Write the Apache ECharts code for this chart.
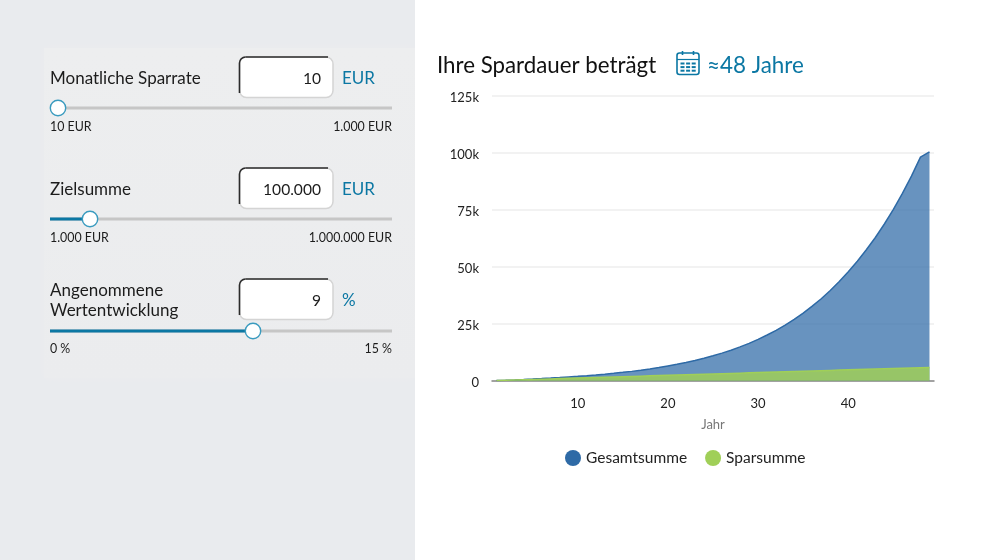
<!DOCTYPE html>
<html>
<head>
<meta charset="utf-8">
<style>
html, body { margin: 0; padding: 0; background: #fff; }
#chart { width: 984px; height: 560px; }
</style>
<script src="https://cdn.jsdelivr.net/npm/echarts@6/dist/echarts.min.js"></script>
</head>
<body>
<div id="chart"></div>
<script>
var years = [];
for (var y = 1; y <= 49; y++) years.push(y);

// Werte
var gesamtsumme = [120, 250, 400, 570, 760, 960, 1180, 1420, 1680, 1950,
    2250, 2570, 2910, 3290, 3700, 4130, 4620, 5160, 5790, 6500,
    7220, 8020, 8900, 9870, 10940, 12120, 13420, 14850, 16420, 18150,
    20050, 22130, 24420, 26930, 29680, 32690, 35950, 39550, 43500, 47800,
    52400, 57400, 62800, 68700, 75100, 82100, 89700, 98000, 100300];
var sparsumme = [120, 240, 360, 480, 600, 720, 840, 960, 1080, 1200,
    1320, 1440, 1560, 1680, 1800, 1920, 2040, 2160, 2280, 2400,
    2520, 2640, 2760, 2880, 3000, 3120, 3240, 3360, 3480, 3600,
    3720, 3840, 3960, 4080, 4200, 4320, 4440, 4560, 4680, 4800,
    4920, 5040, 5160, 5280, 5400, 5520, 5640, 5760, 5880];
var seriesNames = ['Gesamtsumme', 'Sparsumme'];

var fieldLabels = [['Monatliche Sparrate'], ['Zielsumme'], ['Angenommene', 'Wertentwicklung']];
var fieldValues = ['10', '100.000', '9'];
var fieldUnits = ['EUR', 'EUR', '%'];
var rangeMin = ['10 EUR', '1.000 EUR', '0 %'];
var rangeMax = ['1.000 EUR', '1.000.000 EUR', '15 %'];

var FONT = 'Lato';
var BLUE = '#0b77a3';
var graphics = [];

function text(str, x, y, size, color, align) {
    graphics.push({
        type: 'text', z: 20,
        style: { text: str, x: x, y: y, font: size + 'px ' + FONT, fill: color, textAlign: align || 'left', textVerticalAlign: 'middle' }
    });
}
function rect(x, y, w, h, r, fill, stroke, lw) {
    graphics.push({
        type: 'rect', z: 10,
        shape: { x: x, y: y, width: w, height: h, r: r },
        style: { fill: fill, stroke: stroke || null, lineWidth: lw || 0 }
    });
}
function line(x1, y1, x2, y2, color, lw) {
    graphics.push({
        type: 'line', z: 12,
        shape: { x1: x1, y1: y1, x2: x2, y2: y2 },
        style: { stroke: color, lineWidth: lw }
    });
}

// linke Seite
rect(0, 0, 415, 560, 0, '#e9ebee');
graphics.push({
    type: 'rect', z: 10,
    shape: { x: 44, y: 48, width: 371, height: 330 },
    style: {
        fill: { type: 'linear', x: 0, y: 0, x2: 0, y2: 1, colorStops: [{ offset: 0, color: '#edeeef' }, { offset: 1, color: '#ebecee' }] },
        shadowBlur: 10, shadowColor: '#ebecee'
    }
});
// Schatten darf nicht auf die weisse Seite
rect(415, 0, 14, 560, 0, '#fff');

var rowTop = [57, 168, 279];
var trackY = [108, 219, 331];
var knobX = [58, 90, 253];
var labelY = [78.5, 189.5, 291];
var rangeY = [127, 238, 349];

for (var i = 0; i < 3; i++) {
    var boxTop = rowTop[i];
    // Eingabefeld
    rect(239.5, boxTop, 93.5, 40.5, 7, '#fff', '#d4d4d4', 1.5);
    line(239.5, boxTop + 6, 239.5, boxTop + 36, '#2b2b2b', 1.6);
    line(245.5, boxTop, 328, boxTop, '#2b2b2b', 1.6);
    graphics.push({
        type: 'arc', z: 12,
        shape: { cx: 245.5, cy: boxTop + 6, r: 6, startAngle: Math.PI, endAngle: Math.PI * 1.5 },
        style: { stroke: '#2b2b2b', lineWidth: 1.6, fill: null }
    });
    text(fieldValues[i], 321, boxTop + 22, 15.6, '#1c1c1c', 'right');
    text(fieldUnits[i], 342, boxTop + 22, 17, BLUE);

    for (var j = 0; j < fieldLabels[i].length; j++) {
        text(fieldLabels[i][j], 50, labelY[i] + j * 20, 17, '#1c1c1c');
    }

    // Schieberegler
    line(50, trackY[i], 392, trackY[i], '#c6c6c6', 3);
    line(50, trackY[i], knobX[i], trackY[i], BLUE, 3);
    graphics.push({
        type: 'circle', z: 14,
        shape: { cx: knobX[i], cy: trackY[i], r: 7.7 },
        style: { fill: '#fff', stroke: '#3a9bbf', lineWidth: 1.4 }
    });
    text(rangeMin[i], 50, rangeY[i], 12.4, '#1c1c1c');
    text(rangeMax[i], 392, rangeY[i], 12.4, '#1c1c1c', 'right');
}

// Ueberschrift
text('Ihre Spardauer beträgt', 437, 65.5, 22.3, '#111');
text('≈48 Jahre', 707, 65.5, 22.4, BLUE);

// Kalender
rect(677, 53, 22, 21.5, 2.5, '#fff', BLUE, 1.6);
line(677, 59.5, 699, 59.5, BLUE, 1.2);
line(682.5, 51, 682.5, 55, BLUE, 1.6);
line(693.5, 51, 693.5, 55, BLUE, 1.6);
for (var r = 0; r < 3; r++) {
    for (var c = 0; c < 3; c++) {
        rect(680.5 + c * 5.6, 62.5 + r * 3.6, 4, 2, 0, BLUE);
    }
}

var chart = echarts.init(document.getElementById('chart'));
chart.setOption({
    animation: false,
    textStyle: { fontFamily: FONT },
    graphic: graphics,
    grid: { left: 492, right: 50, top: 95.5, height: 285.3, containLabel: false },
    legend: {
        data: seriesNames,
        left: 560, top: 445,
        icon: 'circle',
        itemWidth: 16, itemHeight: 16, itemGap: 18,
        textStyle: { fontSize: 15.5, color: '#222', fontFamily: FONT }
    },
    xAxis: {
        type: 'category',
        data: years,
        boundaryGap: true,
        name: 'Jahr',
        nameLocation: 'middle',
        nameGap: 38,
        nameTextStyle: { color: '#777', fontSize: 13 },
        axisLine: { lineStyle: { color: '#888', width: 1.5 } },
        axisTick: {
            alignWithLabel: true, length: 7,
            lineStyle: { color: '#777', width: 1.2 },
            interval: function (idx, val) { return val % 10 === 0; }
        },
        axisLabel: {
            color: '#222', fontSize: 13, margin: 17,
            interval: function (idx, val) { return val % 10 === 0; }
        },
        splitLine: { show: false }
    },
    yAxis: {
        type: 'value',
        min: 0, max: 125000, interval: 25000,
        axisLine: { show: false },
        axisTick: { show: false },
        axisLabel: {
            color: '#222', fontSize: 13, margin: 13,
            verticalAlign: 'top', lineHeight: 4,
            formatter: function (v) { return v === 0 ? '0' : (v / 1000) + 'k'; }
        },
        splitLine: { lineStyle: { color: '#eeeeee', width: 1.5 } }
    },
    series: [{
        name: seriesNames[0],
        type: 'line',
        data: gesamtsumme,
        showSymbol: false,
        color: '#2e6aa6',
        lineStyle: { width: 1.5, color: '#2e6aa6' },
        areaStyle: { color: '#2e6aa6', opacity: 0.72 }
    }, {
        name: seriesNames[1],
        type: 'line',
        data: sparsumme,
        showSymbol: false,
        color: '#a0cf58',
        lineStyle: { width: 1.5, color: '#a0cf58' },
        areaStyle: { color: '#a0cf58', opacity: 0.85 }
    }]
});
</script>
</body>
</html>
